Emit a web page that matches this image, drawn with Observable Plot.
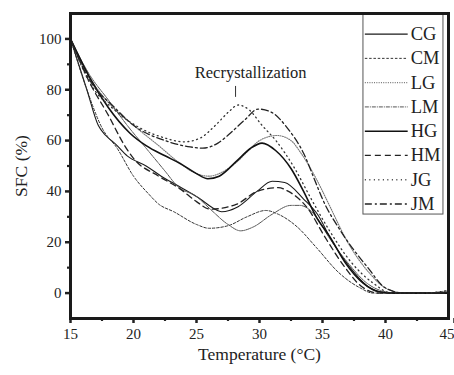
<!DOCTYPE html>
<html>
<head>
<meta charset="utf-8">
<script src="https://cdn.jsdelivr.net/npm/d3@7"></script>
<script src="https://cdn.jsdelivr.net/npm/@observablehq/plot@0.6"></script>
<style>
  html, body { margin: 0; padding: 0; background: #fff; }
  #chart { width: 454px; height: 375px; }
</style>
</head>
<body>
<div id="chart"></div>
<script>
// Series names (legend order)
const seriesNames = ["CG", "CM", "LG", "LM", "HG", "HM", "JG", "JM"];

// [temperature °C, SFC %]
const CG = [[15,100],[16.3,80],[17.2,66],[17.8,62],[18.6,58.5],[19.5,54],[21,50],[22.2,46],[23.6,42],[25.3,37],[26.3,33.5],[27,32],[28.3,34],[29.8,40],[31,44],[32,43.5],[33.5,37],[34.6,31],[35.8,20],[37.2,10],[38.5,3],[39.5,0.5],[40.5,0],[45,0]];
const CM = [[15,100],[16.3,80],[17.5,65],[18.7,57],[20,46],[21.2,39],[22,35],[23.2,32],[25,27],[26,25.5],[27.5,26.5],[29,30],[30.5,32.5],[31.5,31],[33,26],[34.5,18],[36.3,8],[38,2],[39,0],[42,0],[45,0.5]];
const LG = [[15,100],[16.5,85],[18,75],[20,66],[22,58],[23.7,51],[25,47],[26,46],[27,47.5],[28.3,52],[29.3,57],[30,60],[31.4,62],[32.5,60],[33.3,55],[34.5,45],[35.5,35],[37,20],[38.7,8],[40,2],[41.5,0],[43,0],[45,1]];
const LM = [[15,100],[16.5,86],[18,76],[19.5,66],[21,57],[22.5,48],[23.5,42],[25,38],[26.1,33],[27.5,27],[28.5,24.5],[29.5,26],[31,31],[32.5,34.5],[33.2,34.5],[34.5,30],[35.5,22],[37,12],[38.5,4],[40,0.5],[41,0],[45,0]];
const HG = [[15,100],[16.5,85],[18,73],[19.7,63],[21,58],[22.5,54],[23.7,51],[25,47],[25.9,45],[26.8,46],[28.2,52],[29.3,57],[30.2,59],[31.3,56],[32.5,49],[33.5,40],[34.5,30],[35.6,22],[36.8,12],[38.2,4],[39.5,0.5],[40.5,0],[45,0]];
const HM = [[15,100],[16.5,83],[18,70],[19.3,58],[20,53],[22,46],[23.7,41],[25,36],[26.1,33],[28.2,35],[29.8,40],[31.5,41.5],[32.3,40],[33.8,33.5],[35.2,22],[36.8,10],[38,3],[39.5,0],[45,0]];
const JG = [[15,100],[16.5,83],[18.5,72],[20.5,65],[22.5,61],[24,59.5],[25.3,61],[26.5,66],[27.6,71.5],[28.3,74],[29.2,72],[30.2,66],[31.3,60],[32.8,49],[34,38],[35.5,25],[37.3,12],[39,4],[40.5,0],[43,0],[45,1]];
const JM = [[15,100],[16.5,84],[18.5,73],[20,66],[22.5,60],[24.5,57.5],[25.5,57],[26.7,59],[27.7,63],[28.8,68],[29.9,72.4],[31,71],[32.2,65],[33.5,55],[34.5,43],[35,37],[36.5,24],[38.6,10],[40,2],[41.5,0],[45,0]];

const seriesData = {CG, CM, LG, LM, HG, HM, JG, JM};

// Tick labels
const xTicks = [15, 20, 25, 30, 35, 40];
const xLastTick = [45];
const xMinor = [17.5, 22.5, 27.5, 32.5, 37.5, 42.5];
const yTicks = [0, 20, 40, 60, 80, 100];
const yMinor = [10, 30, 50, 70, 90];

const annotation = [{label: "Recrystallization", x: 28.3, y: 74}];

const styles = {
  CG: {stroke: "#1a1a1a", strokeWidth: 1.1, dash: null},
  CM: {stroke: "#333", strokeWidth: 1, dash: "2.5,1.8"},
  LG: {stroke: "#777", strokeWidth: 1.1, dash: "1,1.3"},
  LM: {stroke: "#555", strokeWidth: 1, dash: "4,1,1,1"},
  HG: {stroke: "#111", strokeWidth: 1.6, dash: null},
  HM: {stroke: "#222", strokeWidth: 1.3, dash: "6,4"},
  JG: {stroke: "#333", strokeWidth: 1.3, dash: "1,3.5"},
  JM: {stroke: "#222", strokeWidth: 1.3, dash: "7,3,2,3"}
};

const rows = seriesNames.flatMap(name => seriesData[name].map(([t, v]) => ({name, t, v})));

// legend layout (data units inside plot frame)
const legendRows = seriesNames.map((name, i) => ({name, y: 101.9 - 9.55 * i}));

const lineMarks = seriesNames.map(name => Plot.line(rows.filter(d => d.name === name), {
  x: "t", y: "v", curve: "monotone-x",
  stroke: styles[name].stroke, strokeWidth: styles[name].strokeWidth,
  strokeDasharray: styles[name].dash
}));

const legendLineMarks = seriesNames.map((name, i) => Plot.ruleY([legendRows[i]], {
  y: "y", x1: 38.4, x2: 41.8,
  stroke: styles[name].stroke, strokeWidth: styles[name].strokeWidth,
  strokeDasharray: styles[name].dash
}));

const chart = Plot.plot({
  width: 454,
  height: 375,
  marginLeft: 70,
  marginRight: 6,
  marginTop: 13,
  marginBottom: 57,
  style: {fontFamily: "'Liberation Serif', 'DejaVu Serif', serif", fontSize: "15px", color: "#222", background: "#fff"},
  x: {type: "linear", domain: [15, 45]},
  y: {type: "linear", domain: [-10, 110]},
  marks: [
    ...lineMarks,
    // legend box
    Plot.rect([{x1: 38.25, x2: 44.6, y1: 30.9, y2: 110}], {x1: "x1", x2: "x2", y1: "y1", y2: "y2", fill: "white", stroke: "#555", strokeWidth: 1}),
    ...legendLineMarks,
    Plot.text(legendRows, {x: 42.0, y: "y", text: "name", textAnchor: "start", fontSize: 18.5, fill: "#222"}),
    // annotation
    Plot.text(annotation, {x: d => d.x + 1.0, y: d => d.y + 10.6, text: "label", fontSize: 16.5, fill: "#222", lineAnchor: "bottom"}),
    Plot.ruleX(annotation, {x: d => d.x - 0.2, y1: d => d.y + 3, y2: d => d.y + 7.3, stroke: "#333", strokeWidth: 1}),
    // axes
    Plot.axisX(xTicks, {tickSize: 5, tickPadding: 5, strokeWidth: 2.5, fontSize: 15, label: null}),
    Plot.axisX(xLastTick, {tickSize: 5, tickPadding: 5, strokeWidth: 2.5, fontSize: 15, label: null, textAnchor: "end", dx: 6}),
    Plot.axisX({label: "Temperature (°C)", ticks: [], tickSize: 0, labelAnchor: "center", labelArrow: "none", labelOffset: 41, fontSize: 17.5}),
    Plot.axisX(xMinor, {tickSize: 3, strokeWidth: 2.2, text: null, label: null}),
    Plot.axisY(yTicks, {tickSize: 5, tickPadding: 4, strokeWidth: 2.5, fontSize: 15, label: null}),
    Plot.axisY({label: "SFC (%)", ticks: [], tickSize: 0, labelAnchor: "center", labelArrow: "none", labelOffset: 56, fontSize: 17.5}),
    Plot.axisY(yMinor, {tickSize: 3, strokeWidth: 2.2, text: null, label: null}),
    Plot.frame({stroke: "#1a1a1a", strokeWidth: 3})
  ]
});

document.getElementById("chart").appendChild(chart);
</script>
</body>
</html>
